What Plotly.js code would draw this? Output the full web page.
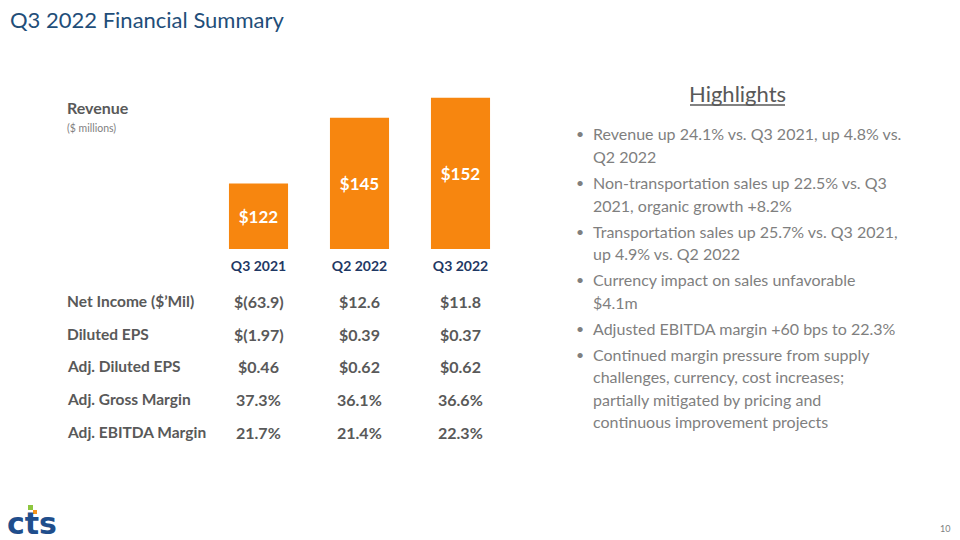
<!DOCTYPE html>
<html>
<head>
<meta charset="utf-8">
<script src="https://cdn.plot.ly/plotly-3.0.1.min.js"></script>
<style>html,body{margin:0;padding:0;background:#fff}#chart{width:960px;height:540px}</style>
</head>
<body>
<div id="chart"></div>
<script>
// ---- data ----
const periods = ["Q3 2021", "Q2 2022", "Q3 2022"];
const revenue = [122, 145, 152];
const revenueLabels = ["$122", "$145", "$152"];
const metricNames = ["Net Income ($\u2019Mil)", "Diluted EPS", "Adj. Diluted EPS", "Adj. Gross Margin", "Adj. EBITDA Margin"];
const q3_2021 = ["$(63.9)", "$(1.97)", "$0.46", "37.3%", "21.7%"];
const q2_2022 = ["$12.6", "$0.39", "$0.62", "36.1%", "21.4%"];
const q3_2022 = ["$11.8", "$0.37", "$0.62", "36.6%", "22.3%"];
const highlights = [
  ["Revenue up 24.1% vs. Q3 2021, up 4.8% vs.", "Q2 2022"],
  ["Non-transportation sales up 22.5% vs. Q3", "2021, organic growth +8.2%"],
  ["Transportation sales up 25.7% vs. Q3 2021,", "up 4.9% vs. Q2 2022"],
  ["Currency impact on sales unfavorable", "$4.1m"],
  ["Adjusted EBITDA margin +60 bps to 22.3%"],
  ["Continued margin pressure from supply", "challenges, currency, cost increases;", "partially mitigated by pricing and", "continuous improvement projects"]
];

// ---- layout helpers ----
const W = 960, H = 540;
const px = x => x / W;
const py = y => 1 - y / H;
const FONT = "Lato, 'Open Sans', sans-serif";
const navy = "#1F3864";
const grayDark = "#595959";
const grayLight = "#7F7F7F";
const orange = "#F7860F";
const axisMin = 99, axisMax = 167;

const annotations = [];
// Title
annotations.push({xref:"paper", yref:"paper", x:px(8), y:py(19), xanchor:"left", yanchor:"middle",
  text:"Q3 2022 Financial Summary", showarrow:false, font:{family:FONT, size:22, color:"#1F4E79"}});
// Revenue label
annotations.push({xref:"paper", yref:"paper", x:px(65), y:py(108), xanchor:"left", yanchor:"middle",
  text:"Revenue", showarrow:false, font:{family:FONT, size:16, color:grayDark, weight:700}});
annotations.push({xref:"paper", yref:"paper", x:px(65), y:py(128), xanchor:"left", yanchor:"middle",
  text:"($ millions)", showarrow:false, font:{family:FONT, size:10.5, color:grayLight}});

// Table
const rowY = [301, 334, 366, 399, 432];
const cols = [q3_2021, q2_2022, q3_2022];
metricNames.forEach((m, i) => {
  annotations.push({xref:"paper", yref:"paper", x:px(65), y:py(rowY[i]), xanchor:"left", yanchor:"middle",
    text:m, showarrow:false, font:{family:FONT, size:15.5, color:grayDark, weight:700}});
  cols.forEach((col, j) => {
    annotations.push({xref:"x", yref:"paper", x:periods[j], y:py(rowY[i]), xanchor:"center", yanchor:"middle",
      text:col[i], showarrow:false, font:{family:FONT, size:16, color:grayDark, weight:700}});
  });
});

// Highlights
annotations.push({xref:"paper", yref:"paper", x:px(737), y:py(94), xanchor:"center", yanchor:"middle",
  text:"Highlights", showarrow:false, font:{family:FONT, size:22, color:grayDark}});
const lineGap = 22.5, bulletGap = 26;
let yCur = 134;
highlights.forEach(b => {
  annotations.push({xref:"paper", yref:"paper", x:px(574), y:py(yCur), xanchor:"left", yanchor:"middle",
    text:"\u2022", showarrow:false, font:{family:FONT, size:14, color:grayLight}});
  b.forEach((ln, k) => {
    annotations.push({xref:"paper", yref:"paper", x:px(591), y:py(yCur), xanchor:"left", yanchor:"middle",
      text:ln, showarrow:false, font:{family:FONT, size:16, color:grayLight}});
    if (k < b.length - 1) yCur += lineGap;
  });
  yCur += bulletGap;
});

// Logo + page number
annotations.push({xref:"paper", yref:"paper", x:px(5), y:py(523), xanchor:"left", yanchor:"middle",
  text:"cts", showarrow:false, font:{family:"'DejaVu Sans', sans-serif", size:30, color:"#1F4E8C", weight:700}});
annotations.push({xref:"paper", yref:"paper", x:px(952), y:py(528), xanchor:"right", yanchor:"middle",
  text:"10", showarrow:false, font:{family:FONT, size:9, color:"#808080"}});

const shapes = [
  {type:"line", xref:"paper", yref:"paper", x0:px(690), x1:px(785), y0:py(105), y1:py(105), line:{color:grayDark, width:1.3}},
  {type:"rect", xref:"paper", yref:"paper", x0:px(28), x1:px(33), y0:py(510), y1:py(505), fillcolor:"#8DC63F", line:{width:0}},
  {type:"rect", xref:"paper", yref:"paper", x0:px(33), x1:px(37), y0:py(514), y1:py(510), fillcolor:"#F7941D", line:{width:0}}
];

// bars start at the visible axis floor so the value labels sit inside the visible part
const trace = {
  type:"bar", x:periods, base:axisMin, y:revenue.map(v => v - axisMin), text:revenueLabels,
  textposition:"inside", insidetextanchor:"middle", constraintext:"none",
  textfont:{family:FONT, size:17, color:"#FFFFFF", weight:700},
  marker:{color:orange}, hoverinfo:"none"
};

const layout = {
  width:W, height:H, margin:{l:0, r:0, t:0, b:0},
  paper_bgcolor:"#FFFFFF", plot_bgcolor:"#FFFFFF",
  showlegend:false, bargap:0.415,
  xaxis:{domain:[px(208), px(511)], range:[-0.5, 2.5], showgrid:false, zeroline:false, showline:false,
    ticks:"", ticklabelstandoff:7, tickfont:{family:FONT, size:14, color:navy, weight:700}, fixedrange:true},
  yaxis:{domain:[py(249), py(55)], range:[axisMin, axisMax], visible:false, fixedrange:true},
  annotations:annotations, shapes:shapes
};

Plotly.newPlot("chart", [trace], layout, {displayModeBar:false, staticPlot:true});
</script>
</body>
</html>
